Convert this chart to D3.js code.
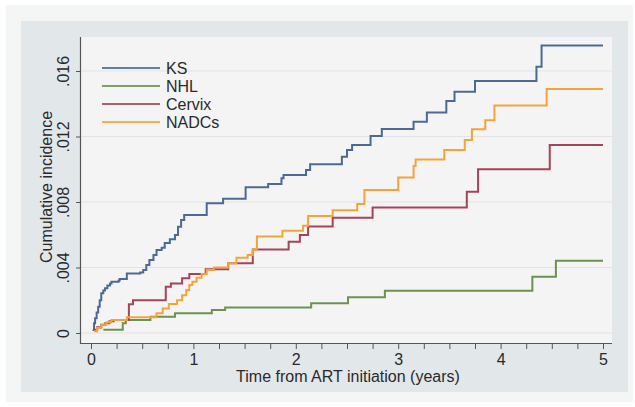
<!DOCTYPE html>
<html>
<head>
<meta charset="utf-8">
<script src="https://cdn.jsdelivr.net/npm/d3@7"></script>
<style>
  html, body { margin: 0; padding: 0; background: #ffffff; }
  svg { display: block; }
  text { font-family: "Liberation Sans", Arial, sans-serif; fill: #2a2a2a; }
</style>
</head>
<body>
<svg id="chart" width="635" height="407"></svg>
<script>
// ---- Data (time in years, cumulative incidence) ----
const seriesNames = ["KS", "NHL", "Cervix", "NADCs"];

const ksTime  = [0.016, 0.03, 0.04, 0.055, 0.07, 0.085, 0.10, 0.12, 0.137, 0.16, 0.186, 0.20, 0.27, 0.28, 0.35, 0.48, 0.51, 0.54, 0.57, 0.61, 0.64, 0.69, 0.72, 0.77, 0.82, 0.85, 0.88, 0.91, 1.13, 1.29, 1.51, 1.73, 1.86, 1.88, 2.10, 2.14, 2.45, 2.50, 2.55, 2.73, 2.84, 3.15, 3.28, 3.47, 3.55, 3.75, 4.35, 4.40, 5.0];
const ksValue = [0.00018, 0.0006, 0.0009, 0.00125, 0.0016, 0.0020, 0.00242, 0.0026, 0.00273, 0.0029, 0.00303, 0.00313, 0.0032, 0.0033, 0.00364, 0.0037, 0.00384, 0.00415, 0.00446, 0.00476, 0.00507, 0.0052, 0.0055, 0.00572, 0.00598, 0.00649, 0.0069, 0.0072, 0.00792, 0.0082, 0.0089, 0.0091, 0.00945, 0.00965, 0.00995, 0.0103, 0.01077, 0.01118, 0.01148, 0.01203, 0.01246, 0.0129, 0.01346, 0.01417, 0.01474, 0.01539, 0.01626, 0.01755, 0.01755];

const nhlTime  = [0.12, 0.31, 0.34, 0.58, 0.82, 1.18, 1.31, 2.15, 2.51, 2.87, 4.31, 4.54, 5.0];
const nhlValue = [0.0002, 0.0006, 0.0008, 0.0010, 0.0012, 0.0014, 0.00155, 0.00181, 0.00218, 0.00258, 0.00344, 0.00441, 0.00441];

const cervixTime  = [0.02, 0.06, 0.10, 0.14, 0.18, 0.22, 0.37, 0.41, 0.73, 0.78, 0.89, 0.96, 1.12, 1.34, 1.58, 1.93, 2.04, 2.12, 2.36, 2.75, 3.67, 3.78, 4.48, 5.0];
const cervixValue = [0.0002, 0.00035, 0.0005, 0.0006, 0.00072, 0.0008, 0.00175, 0.0020, 0.00283, 0.00303, 0.00334, 0.0036, 0.0039, 0.00426, 0.0051, 0.00558, 0.00598, 0.0065, 0.00704, 0.00767, 0.00863, 0.0100, 0.01148, 0.01148];

const nadcTime  = [0.03, 0.06, 0.10, 0.15, 0.20, 0.35, 0.64, 0.70, 0.76, 0.84, 0.89, 0.93, 0.96, 0.99, 1.03, 1.08, 1.13, 1.20, 1.34, 1.42, 1.53, 1.58, 1.62, 1.87, 2.07, 2.12, 2.36, 2.60, 2.67, 3.00, 3.15, 3.17, 3.45, 3.65, 3.72, 3.85, 3.94, 4.45, 5.0];
const nadcValue = [0.0001, 0.0003, 0.0005, 0.00065, 0.0008, 0.00096, 0.0012, 0.0015, 0.00177, 0.0020, 0.0023, 0.00263, 0.00293, 0.00313, 0.00338, 0.0036, 0.00384, 0.0040, 0.00426, 0.0046, 0.00476, 0.0051, 0.0059, 0.00625, 0.00655, 0.00714, 0.0075, 0.00788, 0.00873, 0.0095, 0.0102, 0.0106, 0.01118, 0.01179, 0.01244, 0.0130, 0.0139, 0.0149, 0.0149];

const xTickValues = [0, 1, 2, 3, 4, 5];
const yTickValues = [0, 0.004, 0.008, 0.012, 0.016];
const yTickLabels = ["0", ".004", ".008", ".012", ".016"];
const xTitle = "Time from ART initiation (years)";
const yTitle = "Cumulative incidence";

const colors = ["#4b6a93", "#6c9150", "#a3445a", "#f2a43a"];

const series = [
  { name: seriesNames[0], t: ksTime, v: ksValue },
  { name: seriesNames[1], t: nhlTime, v: nhlValue },
  { name: seriesNames[2], t: cervixTime, v: cervixValue },
  { name: seriesNames[3], t: nadcTime, v: nadcValue }
];

// ---- Layout ----
const svg = d3.select("#chart");
const plot = { left: 81, right: 612, top: 37, bottom: 343 };

svg.append("rect").attr("x", 6).attr("y", 5).attr("width", 627).attr("height", 397).attr("fill", "#f4f5f5");
svg.append("rect").attr("x", 21).attr("y", 21).attr("width", 607).attr("height", 371).attr("fill", "#e2e7ea");
svg.append("rect").attr("x", plot.left).attr("y", plot.top)
  .attr("width", plot.right - plot.left).attr("height", plot.bottom - plot.top).attr("fill", "#f4f4f4");

const x = d3.scaleLinear().domain([0, 5]).range([91, 603]);
const y = d3.scaleLinear().domain([0, 0.016]).range([333, 71]);

// gridlines
svg.append("g").selectAll("line").data(yTickValues).join("line")
  .attr("x1", plot.left).attr("x2", plot.right)
  .attr("y1", d => y(d)).attr("y2", d => y(d))
  .attr("stroke", "#e1e3e4").attr("stroke-width", 1);

// x axis
const xMinor = d3.range(0, 5.0001, 0.25);
const xAxis = d3.axisBottom(x).tickValues(xMinor).tickSize(6).tickPadding(3)
  .tickFormat(d => xTickValues.includes(d) ? String(d) : "");
const gx = svg.append("g").attr("transform", `translate(0,${plot.bottom})`).call(xAxis);
gx.select(".domain").remove();
gx.selectAll(".tick line").attr("stroke", "#555");
gx.selectAll(".tick text").style("font-size", "16px").attr("fill", "#2a2a2a").attr("dy", "0.8em");
svg.append("line").attr("x1", plot.left).attr("x2", plot.right)
  .attr("y1", plot.bottom + 0.5).attr("y2", plot.bottom + 0.5).attr("stroke", "#555").attr("stroke-width", 1.2);

// y axis
const yAxis = d3.axisLeft(y).tickValues(yTickValues).tickSize(5)
  .tickFormat((d, i) => yTickLabels[i]);
const gy = svg.append("g").attr("transform", `translate(${plot.left},0)`).call(yAxis);
gy.select(".domain").remove();
gy.selectAll(".tick line").attr("stroke", "#555");
gy.selectAll(".tick text")
  .style("font-size", "16px").attr("fill", "#2a2a2a")
  .attr("x", 0).attr("dy", 0)
  .attr("text-anchor", "middle")
  .attr("transform", "translate(-12,0) rotate(-90)");
svg.append("line").attr("x1", plot.left - 0.5).attr("x2", plot.left - 0.5)
  .attr("y1", plot.top).attr("y2", plot.bottom + 1).attr("stroke", "#555").attr("stroke-width", 1.2);

// titles
svg.append("text").attr("x", 348).attr("y", 382).attr("text-anchor", "middle")
  .style("font-size", "16px").text(xTitle);
svg.append("text").attr("transform", "translate(52,187) rotate(-90)").attr("text-anchor", "middle")
  .style("font-size", "16px").text(yTitle);

// lines
const line = d3.line().x(d => x(d[0])).y(d => y(d[1])).curve(d3.curveStepAfter);
series.forEach((s, i) => {
  const pts = s.t.map((t, j) => [t, s.v[j]]);
  svg.append("path").datum(pts).attr("d", line)
    .attr("fill", "none").attr("stroke", colors[i]).attr("stroke-width", 2)
    .attr("stroke-linejoin", "miter");
});

// legend
const legY = [68, 86, 104, 122];
const leg = svg.append("g");
series.forEach((s, i) => {
  leg.append("line").attr("x1", 102).attr("x2", 160).attr("y1", legY[i]).attr("y2", legY[i])
    .attr("stroke", colors[i]).attr("stroke-width", 1.8).attr("opacity", 0.85);
  leg.append("text").attr("x", 166).attr("y", legY[i]).attr("dy", "0.36em")
    .style("font-size", "16px").text(s.name);
});
</script>
</body>
</html>
